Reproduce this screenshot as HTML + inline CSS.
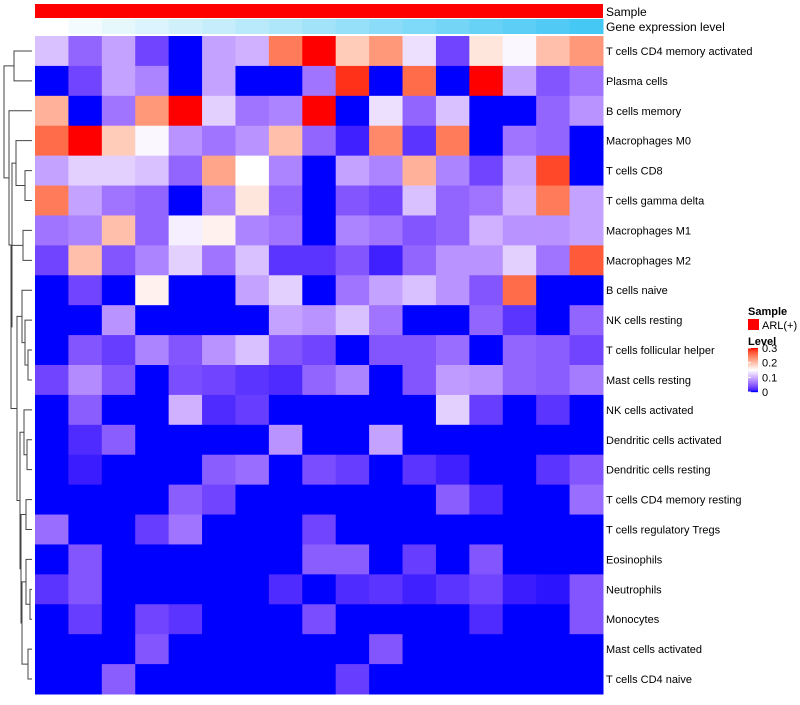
<!DOCTYPE html>
<html><head><meta charset="utf-8"><style>body{margin:0;background:#fff}svg{font-family:"Liberation Sans",sans-serif}</style></head>
<body>
<svg id="c" width="800" height="700"></svg>
<script>
const rowNames=["T cells CD4 memory activated","Plasma cells","B cells memory","Macrophages M0","T cells CD8","T cells gamma delta","Macrophages M1","Macrophages M2","B cells naive","NK cells resting","T cells follicular helper","Mast cells resting","NK cells activated","Dendritic cells activated","Dendritic cells resting","T cells CD4 memory resting","T cells regulatory  Tregs","Eosinophils","Neutrophils","Monocytes","Mast cells activated","T cells CD4 naive"];
const values=[
[0.11,0.05,0.09,0.03,0,0.09,0.10,0.25,0.30,0.19,0.23,0.13,0.03,0.17,0.145,0.20,0.23],
[0,0.03,0.09,0.07,0,0.09,0,0,0.06,0.29,0,0.26,0,0.30,0.09,0.04,0.06],
[0.21,0,0.06,0.23,0.30,0.12,0.06,0.07,0.30,0,0.13,0.05,0.11,0,0,0.05,0.08],
[0.26,0.30,0.19,0.145,0.08,0.06,0.08,0.20,0.05,0.01,0.24,0.02,0.25,0,0.06,0.05,0],
[0.09,0.12,0.12,0.11,0.05,0.22,0.15,0.07,0,0.09,0.07,0.21,0.07,0.03,0.09,0.28,0],
[0.25,0.09,0.06,0.05,0,0.07,0.17,0.05,0,0.04,0.03,0.11,0.05,0.06,0.10,0.25,0.09],
[0.06,0.07,0.20,0.05,0.14,0.16,0.07,0.06,0,0.07,0.06,0.04,0.05,0.10,0.08,0.08,0.09],
[0.03,0.20,0.04,0.07,0.12,0.06,0.11,0.02,0.02,0.04,0.01,0.05,0.08,0.08,0.12,0.06,0.27],
[0,0.03,0,0.16,0,0,0.09,0.12,0,0.06,0.09,0.11,0.08,0.04,0.26,0,0],
[0,0,0.08,0,0,0,0,0.09,0.08,0.11,0.06,0,0,0.05,0.02,0,0.05],
[0,0.04,0.025,0.07,0.04,0.08,0.11,0.04,0.03,0,0.04,0.04,0.055,0,0.05,0.045,0.03],
[0.03,0.075,0.04,0,0.035,0.03,0.02,0.015,0.05,0.07,0,0.04,0.085,0.08,0.05,0.045,0.065],
[0,0.045,0,0,0.10,0.015,0.025,0,0,0,0,0,0.12,0.025,0,0.02,0],
[0,0.015,0.045,0,0,0,0,0.08,0,0,0.09,0,0,0,0,0,0],
[0,0.008,0,0,0,0.045,0.055,0,0.035,0.025,0,0.02,0.01,0,0,0.02,0.04],
[0,0,0,0,0.045,0.03,0,0,0,0,0,0,0.045,0.015,0,0,0.055],
[0.055,0,0,0.025,0.06,0,0,0,0.03,0,0,0,0,0,0,0,0],
[0,0.04,0,0,0,0,0,0,0.045,0.045,0,0.025,0,0.04,0,0,0],
[0.02,0.04,0,0,0,0,0,0.015,0,0.015,0.02,0.01,0.02,0.03,0.008,0.005,0.04],
[0,0.025,0,0.03,0.02,0,0,0,0.035,0,0,0,0,0.015,0,0,0.04],
[0,0,0,0.04,0,0,0,0,0,0,0.04,0,0,0,0,0,0],
[0,0,0.045,0,0,0,0,0,0,0.025,0,0,0,0,0,0,0]];
const legendTicks=[0,0.1,0.2,0.3];
// dendrogram: [x, left, right]
const tree=[4,[14,0,1],[9,2,[12,[16,3,[25,4,5]],[11,[23,6,7],[17,[22,8,[25,9,[28,10,11]]],[20,[24,12,[27,13,14]],[21,[26,15,16],[22,[26,17,[30,18,19]],[28,20,21]]]]]]]]];
const NS="http://www.w3.org/2000/svg",svg=document.getElementById('c');
const X0=35,X1=603,Y0=36,Y1=694,nC=values[0].length,nR=values.length,cw=(X1-X0)/nC,rh=(Y1-Y0)/nR;
const xc=j=>X0+j*cw, yr=i=>Y0+i*rh;
// Lab interpolation
function s2l(c){c/=255;return c<=0.04045?c/12.92:Math.pow((c+0.055)/1.055,2.4);}
function l2s(c){c=c<=0.0031308?12.92*c:1.055*Math.pow(c,1/2.4)-0.055;return Math.round(Math.max(0,Math.min(1,c))*255);}
function toLab(rgb){const [r,g,b]=rgb.map(s2l);
 let X=(0.4124*r+0.3576*g+0.1805*b)/0.95047,Y=0.2126*r+0.7152*g+0.0722*b,Z=(0.0193*r+0.1192*g+0.9505*b)/1.08883;
 const f=t=>t>0.008856?Math.cbrt(t):7.787*t+16/116;X=f(X);Y=f(Y);Z=f(Z);
 return [116*Y-16,500*(X-Y),200*(Y-Z)];}
function fromLab(L,a,b){let Y=(L+16)/116,X=a/500+Y,Z=Y-b/200;
 const fi=t=>t*t*t>0.008856?t*t*t:(t-16/116)/7.787;X=fi(X)*0.95047;Y=fi(Y);Z=fi(Z)*1.08883;
 const r=3.2406*X-1.5372*Y-0.4986*Z,g=-0.9689*X+1.8758*Y+0.0415*Z,bb=0.0557*X-0.2040*Y+1.0570*Z;
 return `rgb(${l2s(r)},${l2s(g)},${l2s(bb)})`;}
const LB=toLab([0,0,255]),LW=toLab([255,255,255]),LR=toLab([255,0,0]);
function col(v){const t=Math.max(0,Math.min(1,v/0.3));let A,B,u;
 if(t<0.5){A=LB;B=LW;u=t/0.5;}else{A=LW;B=LR;u=(t-0.5)/0.5;}
 return fromLab(A[0]+(B[0]-A[0])*u,A[1]+(B[1]-A[1])*u,A[2]+(B[2]-A[2])*u);}
function el(t,a,p){const e=document.createElementNS(NS,t);for(const k in a)e.setAttribute(k,a[k]);(p||svg).appendChild(e);return e;}
const sb=el('rect',{x:X0,y:4,width:X1-X0,height:14,fill:'#ff0000'});


for(let j=0;j<nC;j++){const t=j/(nC-1);
 const r=el('rect',{x:xc(j),y:19,width:cw+0.5,height:15,fill:`rgb(${(255-185*t)|0},${(255-55*t)|0},${(255-10*t)|0})`});
 
 }
const t1=el('text',{x:606,y:16,'font-size':12,fill:'#000'});t1.textContent='Sample';


const t2=el('text',{x:606,y:31,'font-size':12,fill:'#000'});t2.textContent='Gene expression level';


for(let i=0;i<nR;i++){for(let j=0;j<nC;j++){
 const r=el('rect',{x:xc(j),y:yr(i),width:cw+0.5,height:rh+0.5,fill:col(values[i][j])});
 
 }
 const t=el('text',{x:606,y:yr(i)+rh/2+4,'font-size':11,fill:'#000'});t.textContent=rowNames[i];
 
 }
function draw(n){if(typeof n==='number')return {x:X0-3,y:yr(n)+rh/2};
 const a=draw(n[1]),b=draw(n[2]),x=n[0];
 const p=el('path',{d:`M${a.x},${a.y}H${x}V${b.y}H${b.x}`,fill:'none',stroke:'#444','stroke-width':1});
 
 
 return {x:x,y:(a.y+b.y)/2};}
draw(tree);
const l1=el('text',{x:748,y:315,'font-size':11,'font-weight':'bold'});l1.textContent='Sample';


const ls=el('rect',{x:748,y:319,width:11,height:11,fill:'#ff0000'});


const l2=el('text',{x:762,y:329,'font-size':11});l2.textContent='ARL(+)';


const l3=el('text',{x:748,y:345,'font-size':11,'font-weight':'bold'});l3.textContent='Level';


const CB0=348,CB1=392,ly=v=>CB1-(v/0.3)*(CB1-CB0);
for(let k=0;k<44;k++){const v=0.3*(1-k/43);const r=el('rect',{x:748,y:CB0+k,width:10,height:1.2,fill:col(v)});
 
 }
legendTicks.forEach(v=>{const t=el('text',{x:762,y:ly(v)+4,'font-size':11});t.textContent=String(v);
 
 
 const l=el('line',{x1:748,x2:751,y1:ly(v),y2:ly(v),stroke:'#fff'});
 
 });
</script>
</body></html>
